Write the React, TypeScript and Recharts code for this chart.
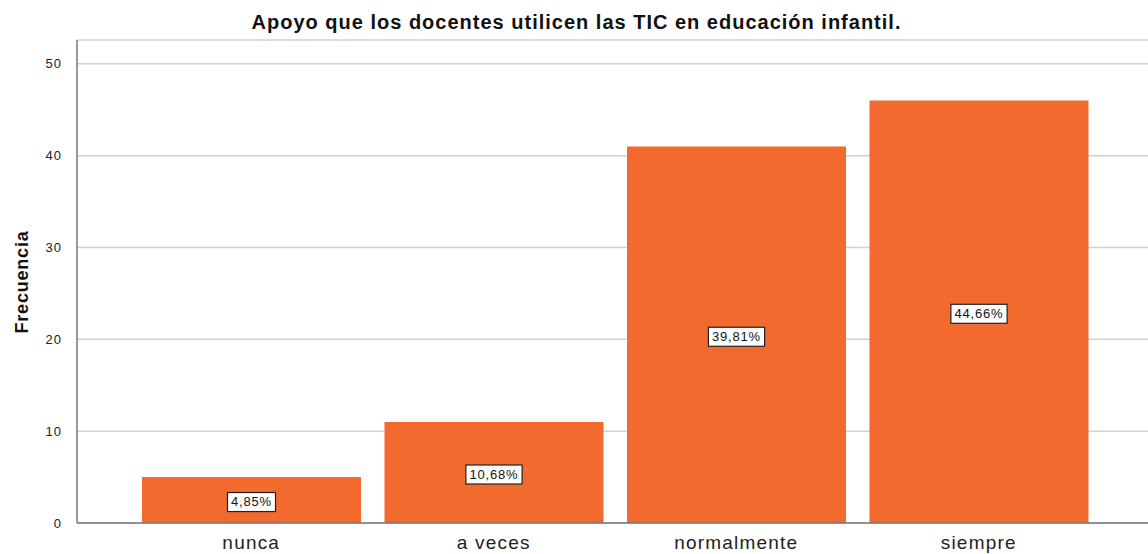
import { BarChart, Bar, XAxis, YAxis, CartesianGrid, LabelList } from 'recharts';

const categories = ['nunca', 'a veces', 'normalmente', 'siempre'];
const frecuencias = [5, 11, 41, 46];
const porcentajes = ['4,85%', '10,68%', '39,81%', '44,66%'];
const yTicks = [0, 10, 20, 30, 40, 50];

const data = categories.map((c, i) => ({ name: c, value: frecuencias[i], pct: porcentajes[i] }));

const FONT = '"Liberation Sans", Arial, sans-serif';

function PctLabel({ x, y, width, height, index }: any) {
  const label = porcentajes[index];
  const cx = x + width / 2;
  const cy = y + height / 2 + 2;
  const w = label.length * 8.2 + 7;
  return (
    <g>
      <rect x={cx - w / 2} y={cy - 9.5} width={w} height={19} fill="#fff" stroke="#222" strokeWidth={1.2} />
      <text x={cx} y={cy + 1} textAnchor="middle" dominantBaseline="middle" fontSize={13} letterSpacing={0.8} fontFamily={FONT} fill="#111">
        {label}
      </text>
    </g>
  );
}

export default function App() {
  return (
    <div style={{ position: 'absolute', left: 0, top: 0, width: 1148, height: 554, background: '#fff', fontFamily: FONT }}>
      <div style={{ position: 'absolute', top: 11, left: 0, width: 1153, textAlign: 'center', fontSize: 20, letterSpacing: 1, fontWeight: 700, color: '#111' }}>
        Apoyo que los docentes utilicen las TIC en educación infantil.
      </div>
      <div style={{
        position: 'absolute', left: 22, top: 282,
        transform: 'translate(-50%, -50%) rotate(-90deg)',
        fontSize: 18, letterSpacing: 0.8, fontWeight: 700, color: '#111', whiteSpace: 'nowrap',
      }}>
        Frecuencia
      </div>
      <BarChart
        width={1148}
        height={554}
        data={data}
        margin={{ top: 40, right: 0, bottom: 0, left: 0 }}
        barCategoryGap={12}
      >
        <CartesianGrid vertical={false} stroke="#d2d2d2" strokeWidth={1.5} />
        <XAxis
          dataKey="name"
          height={31}
          padding={{ left: 53, right: 48 }}
          axisLine={{ stroke: '#777', strokeWidth: 1.5 }}
          tickLine={false}
          tickMargin={7}
          tick={{ fontSize: 19, letterSpacing: 1.2, fill: '#222', fontFamily: FONT }}
        />
        <YAxis
          width={77}
          domain={[0, 52.6]}
          ticks={yTicks}
          allowDataOverflow
          axisLine={{ stroke: '#777', strokeWidth: 1.5 }}
          tickLine={false}
          tickMargin={9}
          tick={{ fontSize: 13, letterSpacing: 1, fill: '#222', fontFamily: FONT }}
        />
        <Bar dataKey="value" fill="#F26A2D" isAnimationActive={false}>
          <LabelList dataKey="pct" content={<PctLabel />} />
        </Bar>
      </BarChart>
    </div>
  );
}
